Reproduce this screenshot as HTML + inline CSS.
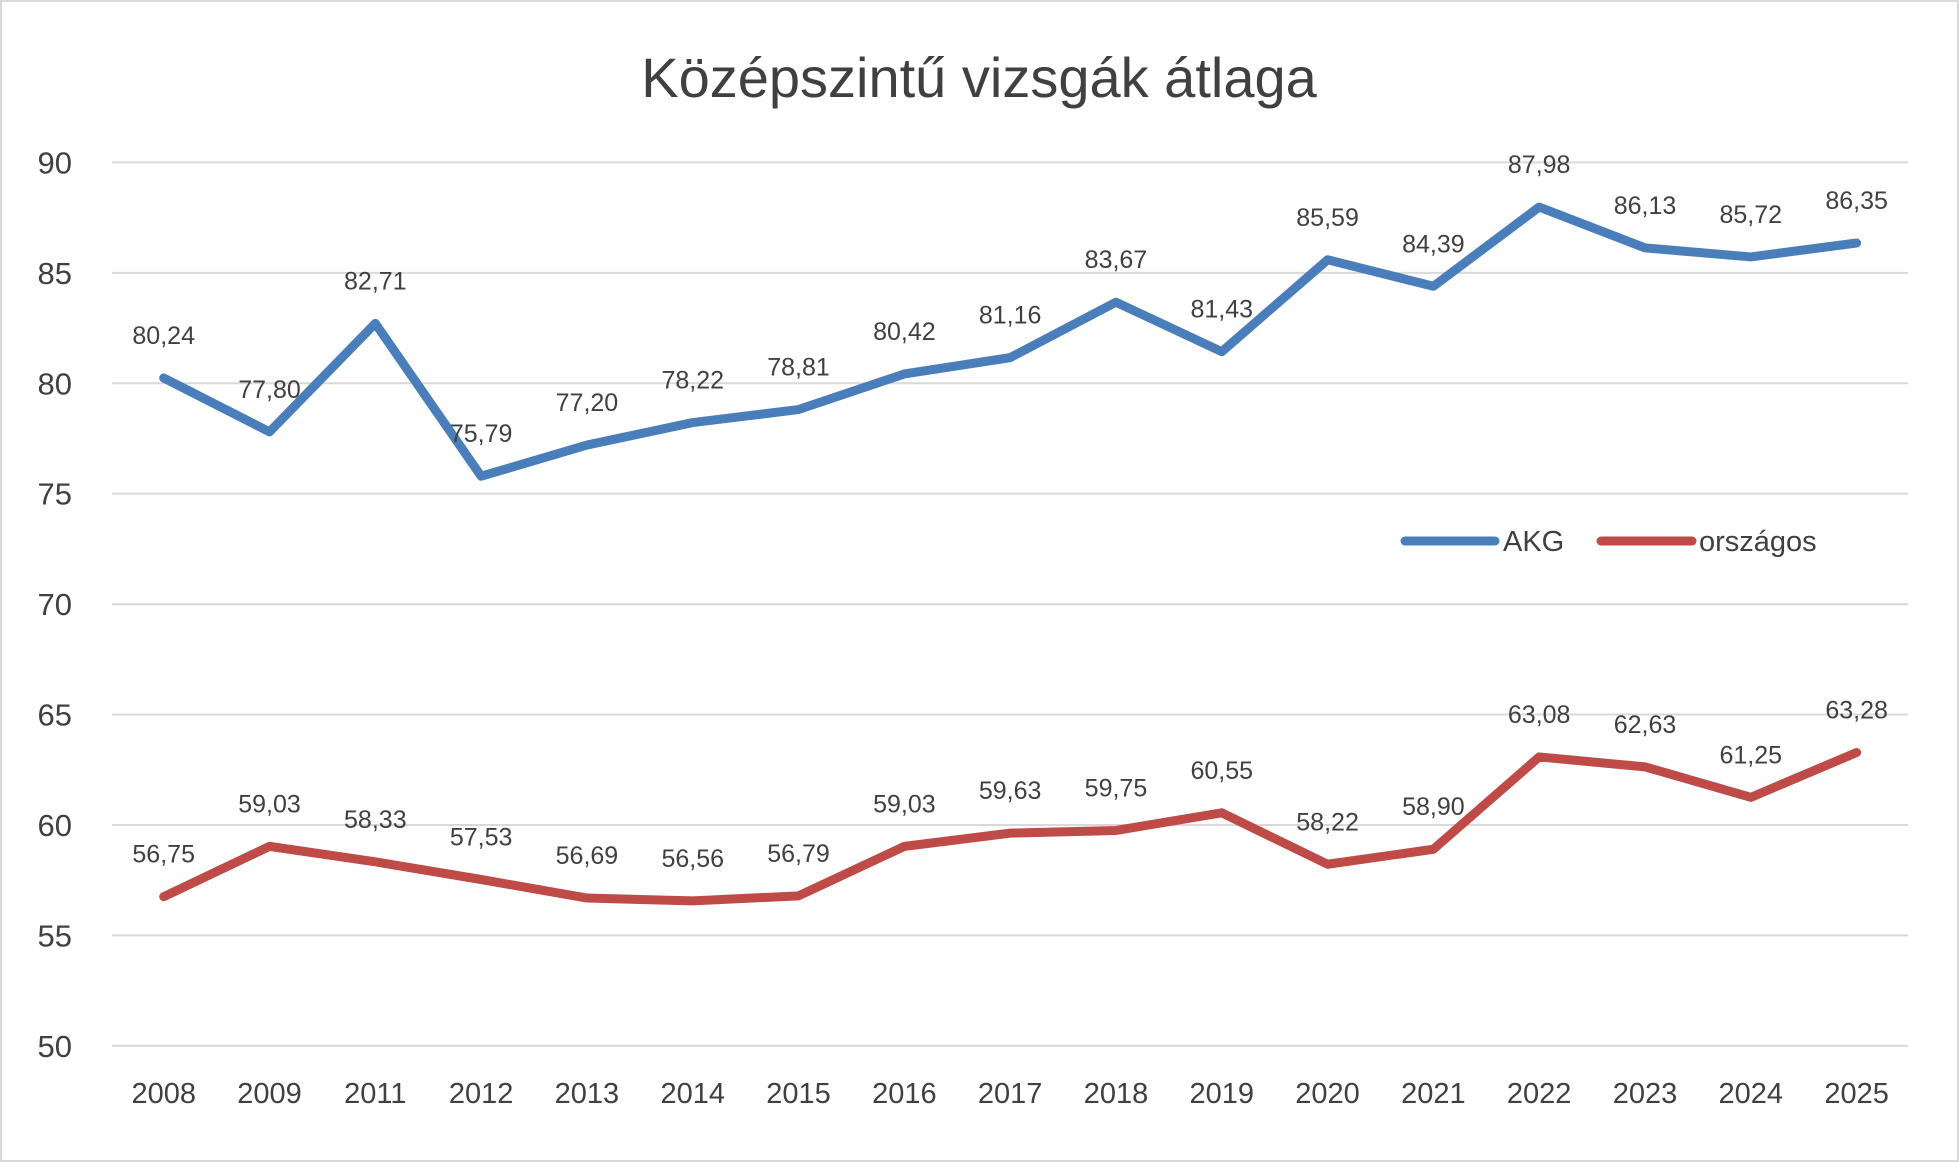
<!DOCTYPE html>
<html><head><meta charset="utf-8"><style>
html,body{margin:0;padding:0;background:#fff;}
svg{display:block;font-family:"Liberation Sans",Calibri,sans-serif;}
</style></head><body>
<svg id="chart" width="1959" height="1162" viewBox="0 0 1959 1162">
<rect x="1" y="1" width="1957" height="1160" fill="#fff" stroke="#d9d9d9" stroke-width="2"/>
<text x="979" y="97" text-anchor="middle" font-size="56" fill="#404040">Középszintű vizsgák átlaga</text>
<g id="grid"></g><g id="yticks"></g><g id="xticks"></g><g id="series"></g><g id="labels"></g>
<g>
<line x1="1405" y1="541" x2="1495" y2="541" stroke="#4a7ebb" stroke-width="9" stroke-linecap="round"/>
<text x="1503" y="551" font-size="29" fill="#404040">AKG</text>
<line x1="1601" y1="541" x2="1692" y2="541" stroke="#be4b48" stroke-width="9" stroke-linecap="round"/>
<text x="1699" y="551" font-size="29" fill="#404040">országos</text>
</g>
</svg>
<script>
const categories=["2008","2009","2011","2012","2013","2014","2015","2016","2017","2018","2019","2020","2021","2022","2023","2024","2025"];
const akg=[80.24,77.80,82.71,75.79,77.20,78.22,78.81,80.42,81.16,83.67,81.43,85.59,84.39,87.98,86.13,85.72,86.35];
const orszagos=[56.75,59.03,58.33,57.53,56.69,56.56,56.79,59.03,59.63,59.75,60.55,58.22,58.90,63.08,62.63,61.25,63.28];
const yTicks=[50,55,60,65,70,75,80,85,90];
const NS="http://www.w3.org/2000/svg";
const x=i=>163.7+i*(1856.6-163.7)/(categories.length-1);
const y=v=>1045.8-(v-50)*(1045.8-162.4)/40;
function mk(tag,attrs,parent,txt){const e=document.createElementNS(NS,tag);for(const k in attrs)e.setAttribute(k,attrs[k]);if(txt!==undefined)e.textContent=txt;document.getElementById(parent).appendChild(e);return e;}
yTicks.forEach(t=>{
 const l=mk('line',{x1:112,x2:1908,y1:y(t),y2:y(t),stroke:'#d9d9d9','stroke-width':2},'grid');
 
 
 const tx=mk('text',{x:72,y:y(t)+11,'text-anchor':'end','font-size':31,fill:'#404040'},'yticks',String(t));
 
 
});
categories.forEach((c,i)=>{
 const tx=mk('text',{x:x(i),y:1103,'text-anchor':'middle','font-size':29,fill:'#404040'},'xticks',c);
 
 
});
[[akg,'#4a7ebb','akg'],[orszagos,'#be4b48','orszagos']].forEach(([d,col,n])=>{
 const p=mk('polyline',{points:d.map((v,i)=>x(i)+','+y(v)).join(' '),fill:'none',stroke:col,'stroke-width':9,'stroke-linejoin':'round','stroke-linecap':'round'},'series');
 
 
 d.forEach((v,i)=>{
  const t=mk('text',{x:x(i),y:y(v)-34,'text-anchor':'middle','font-size':25,fill:'#404040'},'labels',v.toFixed(2).replace('.',','));
  
  
 });
});
</script>
</body></html>
